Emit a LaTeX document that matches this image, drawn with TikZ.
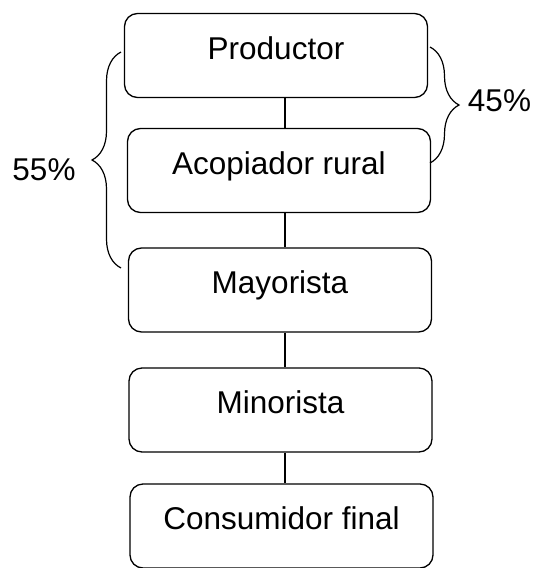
\documentclass[tikz,border=0pt]{standalone}
\usepackage{fontspec}
\setmainfont{Liberation Sans}
\usetikzlibrary{decorations.pathreplacing}
\tikzset{
  stage/.style={draw=black, line width=1.3pt, rounded corners=13pt,
    minimum width=303pt, minimum height=84pt, inner sep=0pt,
    text height=22pt, text depth=14.4pt,
    font=\fontsize{31.5}{36}\selectfont},
  link/.style={draw=black, line width=1.3pt},
  bracestyle/.style={draw=black, line width=1.2pt,
    decorate, decoration={brace, amplitude=29pt}},
  pct/.style={font=\fontsize{31.5}{36}\selectfont, inner sep=0pt}
}
\begin{document}
\begin{tikzpicture}[x=1pt, y=-1pt]
\useasboundingbox (0,0) rectangle (533,568);
\node[stage] (prod) at (276,55.5) {Productor};
\node[stage] (acop) at (279,170.5) {Acopiador rural};
\node[stage] (mayo) at (280,290) {Mayorista};
\node[stage] (mino) at (280.5,410) {Minorista};
\node[stage] (cons) at (281.5,526) {Consumidor final};
\coordinate (lx) at (285,0);
\draw[link] (prod.south -| lx) -- (acop.north -| lx);
\draw[link] (acop.south -| lx) -- (mayo.north -| lx);
\draw[link] (mayo.south -| lx) -- (mino.north -| lx);
\draw[link] (mino.south -| lx) -- (cons.north -| lx);
% braces
\coordinate (lb1) at (121,268);
\coordinate (lb2) at (121,52);
\coordinate (rb1) at (430,47);
\coordinate (rb2) at (430,163);
\draw[bracestyle] (lb1) -- (lb2);
\draw[bracestyle] (rb1) -- (rb2);
\node[pct] (p55) at (44,170) {55\%};
\node[pct] (p45) at (499.5,101) {45\%};
\end{tikzpicture}
\end{document}
